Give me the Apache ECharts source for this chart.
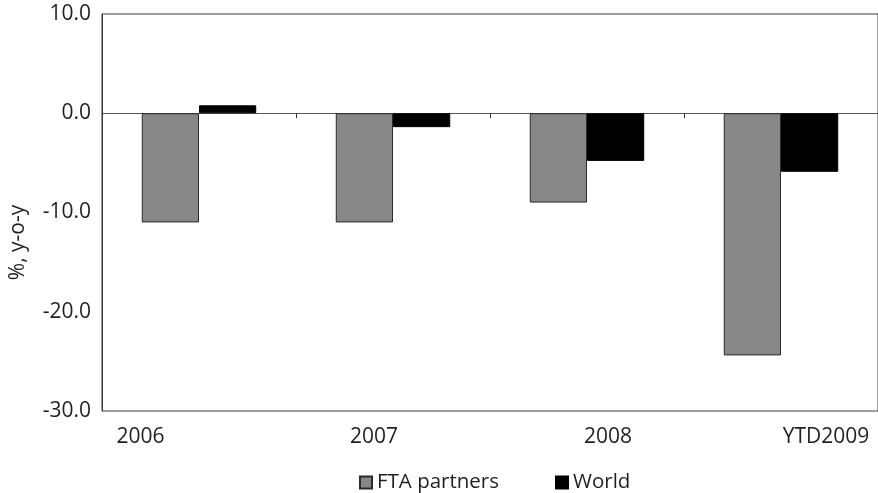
<!DOCTYPE html>
<html>
<head>
<meta charset="utf-8">
<script src="https://cdn.jsdelivr.net/npm/echarts@6/dist/echarts.min.js"></script>
<style>
  html, body { margin: 0; padding: 0; background: #fff; }
  #chart { width: 878px; height: 493px; }
</style>
</head>
<body>
<div id="chart"></div>
<script>
// data
const categories = ['2006', '2007', '2008', 'YTD2009'];
const ftaPartners = [-11.0, -11.0, -9.0, -24.4];
const world = [0.8, -1.4, -4.8, -5.9];
const yTicks = { min: -30, max: 10, interval: 10 };

const myChart = echarts.init(document.getElementById('chart'));

// labels under the plot sit off their category centre in the original
const labelPad = [[0, 117, 0, 0], [0, 38, 0, 0], [0, 0, 0, 42], [0, 0, 0, 90]];
const labelData = categories.map((c, i) => ({ value: c, textStyle: { padding: labelPad[i] } }));

const font = '"Open Sans", "Noto Sans", sans-serif';
const ink = '#231f20';

const option = {
  animation: false,
  textStyle: { fontFamily: font, color: ink },
  grid: {
    left: 102,
    right: -4,
    top: 14,
    bottom: 82,
    show: true,
    borderColor: '#3a3a3a',
    borderWidth: 1
  },
  legend: {
    data: ['FTA partners', 'World'],
    left: 354,
    top: 467,
    icon: 'rect',
    itemWidth: 12,
    itemHeight: 12,
    itemGap: 56,
    textStyle: { fontFamily: font, fontSize: 20.5, color: ink }
  },
  xAxis: [
    {
      type: 'category',
      data: categories,
      axisLine: { onZero: true, lineStyle: { color: '#555', width: 1 } },
      axisTick: { show: true, length: 5, lineStyle: { color: '#333' } },
      axisLabel: { show: false },
      splitLine: { show: false }
    },
    {
      type: 'category',
      data: labelData,
      position: 'bottom',
      axisLine: { show: false, onZero: false },
      axisTick: { show: false },
      axisLabel: { margin: 16, fontSize: 21, color: ink, fontFamily: font },
      splitLine: { show: false }
    }
  ],
  yAxis: {
    type: 'value',
    min: yTicks.min,
    max: yTicks.max,
    interval: yTicks.interval,
    name: '%, y-o-y',
    nameLocation: 'middle',
    nameRotate: 90,
    nameGap: 73,
    nameTextStyle: { fontSize: 21, color: ink, fontFamily: font, padding: [0, 60, 0, 0] },
    axisLine: { show: true, lineStyle: { color: '#3a3a3a' } },
    axisTick: { show: false },
    splitLine: { show: false },
    axisLabel: {
      margin: 11,
      fontSize: 21,
      color: ink,
      fontFamily: font,
      formatter: v => v.toFixed(1)
    }
  },
  series: [
    {
      name: 'FTA partners',
      type: 'bar',
      xAxisIndex: 0,
      data: ftaPartners,
      barGap: '0%',
      barCategoryGap: '41%',
      itemStyle: { color: '#878787', borderColor: '#2a2a2a', borderWidth: 1 }
    },
    {
      name: 'World',
      type: 'bar',
      xAxisIndex: 0,
      data: world,
      barGap: '0%',
      barCategoryGap: '41%',
      itemStyle: { color: '#000', borderColor: '#000', borderWidth: 1 }
    }
  ]
};

option && myChart.setOption(option);
</script>
</body>
</html>
